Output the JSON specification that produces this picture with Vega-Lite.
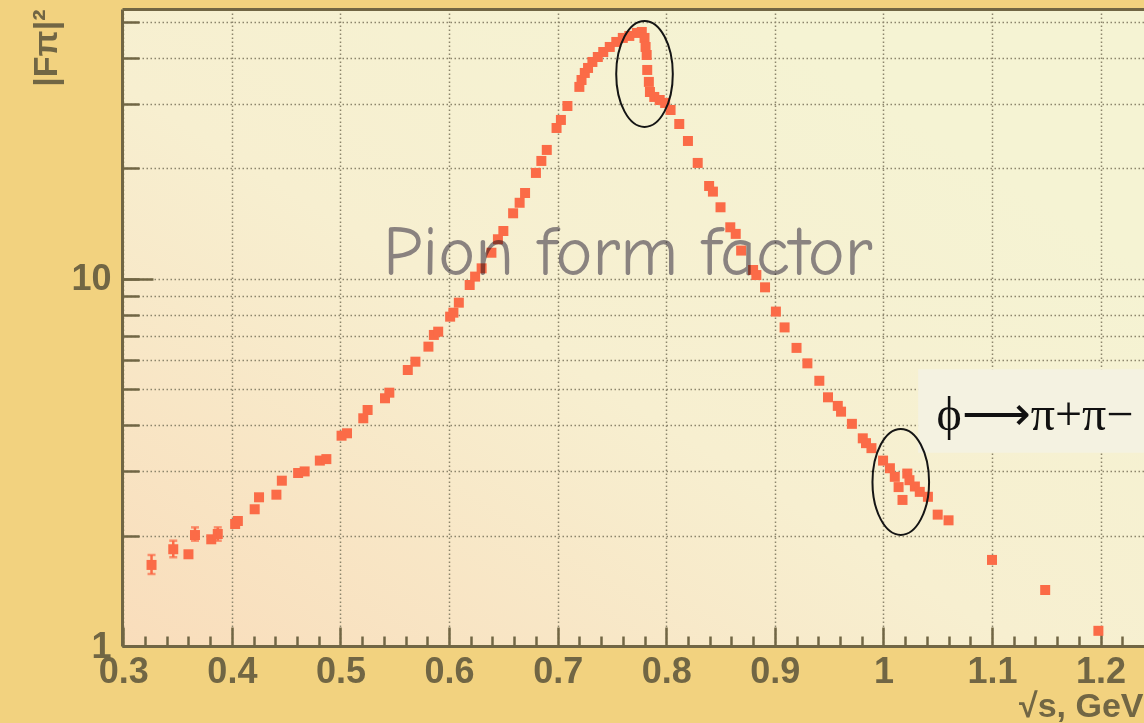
{
  "$schema": "https://vega.github.io/schema/vega-lite/v6.json",
  "width": 1022,
  "height": 637,
  "autosize": {"type": "none"},
  "padding": {"left": 122, "top": 9, "right": 0, "bottom": 77},
  "background": "#f2d27f",
  "view": {
    "fill": {"gradient": "linear", "x1": 0, "y1": 1, "x2": 0.8, "y2": 0.2,
      "stops": [{"offset": 0, "color": "#f9ddbb"}, {"offset": 0.55, "color": "#f7efd0"}, {"offset": 1, "color": "#f5f3d3"}]},
    "stroke": null
  },
  "config": {"font": "Liberation Sans"},
  "datasets": {
    "pts": [
      {"s": 0.326, "f": 1.663, "lo": 1.571, "hi": 1.770},
      {"s": 0.346, "f": 1.835, "lo": 1.745, "hi": 1.936},
      {"s": 0.360, "f": 1.778},
      {"s": 0.366, "f": 2.006, "lo": 1.936, "hi": 2.105},
      {"s": 0.381, "f": 1.953},
      {"s": 0.387, "f": 2.019, "lo": 1.936, "hi": 2.105},
      {"s": 0.403, "f": 2.150},
      {"s": 0.4055, "f": 2.191},
      {"s": 0.421, "f": 2.358},
      {"s": 0.425, "f": 2.542},
      {"s": 0.441, "f": 2.584},
      {"s": 0.446, "f": 2.821},
      {"s": 0.461, "f": 2.96},
      {"s": 0.467, "f": 2.99},
      {"s": 0.481, "f": 3.20},
      {"s": 0.487, "f": 3.23},
      {"s": 0.501, "f": 3.741},
      {"s": 0.506, "f": 3.798},
      {"s": 0.521, "f": 4.173},
      {"s": 0.525, "f": 4.396},
      {"s": 0.541, "f": 4.731},
      {"s": 0.545, "f": 4.900},
      {"s": 0.562, "f": 5.649},
      {"s": 0.569, "f": 5.952},
      {"s": 0.581, "f": 6.541},
      {"s": 0.586, "f": 7.039},
      {"s": 0.590, "f": 7.186},
      {"s": 0.601, "f": 7.895},
      {"s": 0.604, "f": 8.094},
      {"s": 0.609, "f": 8.619},
      {"s": 0.619, "f": 9.631},
      {"s": 0.624, "f": 10.15},
      {"s": 0.630, "f": 10.69},
      {"s": 0.639, "f": 11.79},
      {"s": 0.645, "f": 12.83},
      {"s": 0.650, "f": 13.51},
      {"s": 0.659, "f": 15.10},
      {"s": 0.665, "f": 16.13},
      {"s": 0.670, "f": 17.15},
      {"s": 0.680, "f": 19.45},
      {"s": 0.685, "f": 20.97},
      {"s": 0.690, "f": 22.47},
      {"s": 0.699, "f": 25.79},
      {"s": 0.703, "f": 27.12},
      {"s": 0.709, "f": 29.60},
      {"s": 0.720, "f": 33.37},
      {"s": 0.722, "f": 34.85},
      {"s": 0.725, "f": 36.42},
      {"s": 0.728, "f": 37.58},
      {"s": 0.732, "f": 39.02},
      {"s": 0.737, "f": 40.26},
      {"s": 0.742, "f": 41.54},
      {"s": 0.748, "f": 42.87},
      {"s": 0.754, "f": 44.24},
      {"s": 0.760, "f": 45.37},
      {"s": 0.766, "f": 45.94},
      {"s": 0.773, "f": 46.81},
      {"s": 0.7775, "f": 47.10},
      {"s": 0.780, "f": 45.37},
      {"s": 0.781, "f": 42.87},
      {"s": 0.782, "f": 40.77},
      {"s": 0.7825, "f": 37.11},
      {"s": 0.784, "f": 34.43},
      {"s": 0.785, "f": 32.32},
      {"s": 0.789, "f": 31.33},
      {"s": 0.794, "f": 30.74},
      {"s": 0.799, "f": 30.17},
      {"s": 0.804, "f": 28.87},
      {"s": 0.812, "f": 26.44},
      {"s": 0.820, "f": 23.77},
      {"s": 0.829, "f": 20.71},
      {"s": 0.8395, "f": 17.92},
      {"s": 0.843, "f": 17.30},
      {"s": 0.850, "f": 15.68},
      {"s": 0.859, "f": 13.83},
      {"s": 0.864, "f": 13.27},
      {"s": 0.869, "f": 11.95},
      {"s": 0.880, "f": 10.58},
      {"s": 0.883, "f": 10.25},
      {"s": 0.891, "f": 9.49},
      {"s": 0.901, "f": 8.15},
      {"s": 0.909, "f": 7.38},
      {"s": 0.920, "f": 6.49},
      {"s": 0.930, "f": 5.89},
      {"s": 0.941, "f": 5.28},
      {"s": 0.949, "f": 4.76},
      {"s": 0.958, "f": 4.51},
      {"s": 0.961, "f": 4.35},
      {"s": 0.971, "f": 4.03},
      {"s": 0.981, "f": 3.68},
      {"s": 0.984, "f": 3.57},
      {"s": 0.989, "f": 3.46},
      {"s": 0.9997, "f": 3.20},
      {"s": 1.006, "f": 3.05},
      {"s": 1.0105, "f": 2.89},
      {"s": 1.014, "f": 2.71},
      {"s": 1.0176, "f": 2.50},
      {"s": 1.022, "f": 2.95},
      {"s": 1.024, "f": 2.83},
      {"s": 1.029, "f": 2.72},
      {"s": 1.0335, "f": 2.63},
      {"s": 1.041, "f": 2.55},
      {"s": 1.050, "f": 2.28},
      {"s": 1.060, "f": 2.20},
      {"s": 1.100, "f": 1.716},
      {"s": 1.149, "f": 1.421},
      {"s": 1.198, "f": 1.10}
    ]
  },
  "data": {"name": "pts"},
  "resolve": {"axis": {"x": "independent", "y": "independent"}},
  "layer": [
    {
      "mark": {"type": "point", "shape": "square", "filled": true, "size": 100, "color": "#fb6b47", "opacity": 1},
      "encoding": {
        "x": {"field": "s", "type": "quantitative",
          "scale": {"domain": [0.2988, 1.24], "nice": false, "zero": false},
          "axis": {"orient": "bottom", "values": [0.3, 0.4, 0.5, 0.6, 0.7, 0.8, 0.9, 1, 1.1, 1.2], "format": ".1~f",
            "ticks": false, "labels": true, "labelFont": "Liberation Sans", "labelFontWeight": "bold", "labelFontSize": 36,
            "labelColor": "#716644", "labelPadding": 8, "labelFlush": false, "labelOverlap": false,
            "domain": true, "domainColor": "#716644", "domainWidth": 3,
            "grid": true, "gridColor": "#8c856c", "gridDash": [1.5, 2.5], "gridWidth": 1.5,
            "title": "√s, GeV", "titleFont": "Liberation Sans", "titleFontSize": 34, "titleFontWeight": "bold", "titleColor": "#716644",
            "titleAnchor": "end", "titleAlign": "right", "titleX": 1021, "titleY": 70, "titleBaseline": "alphabetic"}},
        "y": {"field": "f", "type": "quantitative",
          "scale": {"type": "log", "domain": [1, 54.4], "nice": false},
          "axis": {"orient": "left", "values": [1, 10], "format": "d", "ticks": false,
            "labelFont": "Liberation Sans", "labelFontWeight": "bold", "labelFontSize": 36, "labelColor": "#716644",
            "labelPadding": 11, "labelFlush": false, "labelOverlap": false,
            "domain": true, "domainColor": "#716644", "domainWidth": 3, "grid": false,
            "title": "|Fπ|²", "titleFont": "Liberation Sans", "titleFontSize": 34, "titleFontWeight": "bold", "titleColor": "#716644",
            "titleAngle": -90, "titleAlign": "right", "titleBaseline": "alphabetic", "titleX": -66, "titleY": 0}}
      }
    },
    {
      "transform": [{"filter": "isValid(datum.lo)"}],
      "mark": {"type": "rule", "color": "#fb6b47", "strokeWidth": 2.5},
      "encoding": {
        "x": {"field": "s", "type": "quantitative",
          "scale": {"domain": [0.2988, 1.24], "nice": false, "zero": false},
          "axis": {"orient": "bottom", "values": [0.3, 0.4, 0.5, 0.6, 0.7, 0.8, 0.9, 1, 1.1, 1.2],
            "ticks": true, "tickSize": -19, "tickWidth": 2.5, "tickColor": "#716644",
            "labels": false, "domain": false, "grid": false, "title": null}},
        "y": {"field": "lo", "type": "quantitative",
          "scale": {"type": "log", "domain": [1, 54.4], "nice": false},
          "axis": {"orient": "left", "values": [1, 2, 3, 4, 5, 6, 7, 8, 9, 10, 20, 30, 40, 50],
            "ticks": true, "tickSize": -17, "tickWidth": 2.5, "tickColor": "#716644",
            "labels": false, "domain": false,
            "grid": true, "gridColor": "#8c856c", "gridDash": [1.5, 2.5], "gridWidth": 1.5, "title": null}},
        "y2": {"field": "hi"}
      }
    },
    {
      "transform": [{"filter": "isValid(datum.lo)"}],
      "mark": {"type": "tick", "orient": "horizontal", "color": "#fb6b47", "size": 8, "thickness": 2.5},
      "encoding": {
        "x": {"field": "s", "type": "quantitative",
          "scale": {"domain": [0.2988, 1.24], "nice": false, "zero": false},
          "axis": {"orient": "bottom",
            "values": [0.32, 0.34, 0.36, 0.38, 0.42, 0.44, 0.46, 0.48, 0.52, 0.54, 0.56, 0.58, 0.62, 0.64, 0.66, 0.68, 0.72, 0.74, 0.76, 0.78, 0.82, 0.84, 0.86, 0.88, 0.92, 0.94, 0.96, 0.98, 1.02, 1.04, 1.06, 1.08, 1.12, 1.14, 1.16, 1.18, 1.22],
            "ticks": true, "tickSize": -10, "tickWidth": 2.5, "tickColor": "#716644",
            "labels": false, "domain": false, "grid": false, "title": null}},
        "y": {"field": "lo", "type": "quantitative",
          "scale": {"type": "log", "domain": [1, 54.4], "nice": false},
          "axis": {"orient": "left", "values": [10],
            "ticks": true, "tickSize": -31, "tickWidth": 2.5, "tickColor": "#716644",
            "labels": false, "domain": false, "grid": false, "title": null}}
      }
    },
    {
      "transform": [{"filter": "isValid(datum.hi)"}],
      "mark": {"type": "tick", "orient": "horizontal", "color": "#fb6b47", "size": 8, "thickness": 2.5},
      "encoding": {
        "x": {"field": "s", "type": "quantitative",
          "scale": {"domain": [0.2988, 1.24], "nice": false, "zero": false},
          "axis": {"orient": "top", "ticks": false, "labels": false, "grid": false, "title": null,
            "domain": true, "domainColor": "#716644", "domainWidth": 3}},
        "y": {"field": "hi", "type": "quantitative",
          "scale": {"type": "log", "domain": [1, 54.4], "nice": false}, "axis": null}
      }
    },
    {
      "data": {"values": [{}]},
      "mark": {"type": "rect", "fill": "#f4f2e1"},
      "encoding": {
        "x": {"datum": 1.032, "type": "quantitative", "axis": null},
        "x2": {"datum": 1.24},
        "y": {"datum": 5.675, "type": "quantitative", "axis": null},
        "y2": {"datum": 3.363}
      }
    },
    {
      "data": {"values": [{}]},
      "mark": {"type": "text", "text": "ϕ⟶π+π−", "font": "Liberation Serif", "fontSize": 48, "color": "#111111", "align": "center", "baseline": "alphabetic"},
      "encoding": {
        "x": {"datum": 1.1395, "type": "quantitative", "axis": null},
        "y": {"datum": 3.88, "type": "quantitative", "axis": null}
      }
    },
    {
      "data": {"values": [{}]},
      "mark": {"type": "point", "shape": "M0,-1C0.295,-1,0.534,-0.552,0.534,0C0.534,0.552,0.295,1,0,1C-0.295,1,-0.534,0.552,-0.534,0C-0.534,-0.552,-0.295,-1,0,-1Z",
        "size": 11236, "filled": false, "stroke": "#151515", "strokeWidth": 2, "opacity": 1},
      "encoding": {
        "x": {"datum": 0.780, "type": "quantitative", "axis": null},
        "y": {"datum": 36.2, "type": "quantitative", "axis": null}
      }
    },
    {
      "data": {"values": [{}]},
      "mark": {"type": "point", "shape": "M0,-1C0.295,-1,0.534,-0.552,0.534,0C0.534,0.552,0.295,1,0,1C-0.295,1,-0.534,0.552,-0.534,0C-0.534,-0.552,-0.295,-1,0,-1Z",
        "size": 11236, "filled": false, "stroke": "#151515", "strokeWidth": 2, "opacity": 1},
      "encoding": {
        "x": {"datum": 1.016, "type": "quantitative", "axis": null},
        "y": {"datum": 2.80, "type": "quantitative", "axis": null}
      }
    },
    {
      "data": {"values": [{}]},
      "mark": {"type": "text", "text": "Pion form factor", "font": "Comic Sans MS, Comic Neue, Open Sans", "fontSize": 70,
        "color": "#8f8b9c", "blend": "multiply", "align": "center", "baseline": "alphabetic"},
      "encoding": {
        "x": {"datum": 0.7646, "type": "quantitative", "axis": null},
        "y": {"datum": 10.25, "type": "quantitative", "axis": null}
      }
    }
  ]
}
